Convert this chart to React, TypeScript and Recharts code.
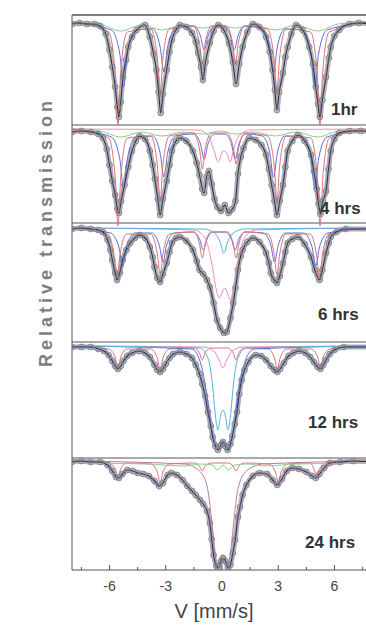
import React from "react";
import { ComposedChart, Line, Scatter, XAxis, YAxis, ReferenceLine } from "recharts";

type Pt = [number, number];

// velocity ticks (mm/s)
const V_TICKS = [-7.5, -6, -4.5, -3, -1.5, 0, 1.5, 3, 4.5, 6, 7.5];
const V_LABELS = [-6, -3, 0, 3, 6];

// panel baselines / frame tops in stacked transmission units
const PANEL_BASE = [548, 441, 342, 224, 109];
const PANEL_TOPS = [555, 445, 347, 228, 112];
const PANEL_NAMES = ["1hr", "4 hrs", "6 hrs", "12 hrs", "24 hrs"];

// ---- 1 hr ----
const p1Data: Pt[] = [[-8,2],[-7.6,1],[-7.2,2],[-6.8,2],[-6.5,4],[-6.2,12],[-6.0,28],[-5.85,45],[-5.7,65],[-5.58,85],[-5.5,95],[-5.4,80],[-5.28,55],[-5.12,38],[-5.0,25],[-4.8,15],[-4.55,8],[-4.1,3],[-3.85,15],[-3.65,32],[-3.5,48],[-3.38,70],[-3.27,91],[-3.15,72],[-2.95,48],[-2.8,30],[-2.67,18],[-2.45,8],[-2.25,3],[-1.9,5],[-1.6,11],[-1.4,20],[-1.28,31],[-1.12,45],[-1.02,58],[-0.88,40],[-0.65,21],[-0.45,9],[-0.2,3],[0.1,8],[0.37,21],[0.58,40],[0.75,62],[0.92,42],[1.1,25],[1.35,10],[1.65,2],[2.0,5],[2.35,15],[2.55,30],[2.7,48],[2.82,68],[2.93,88],[3.05,70],[3.25,51],[3.38,35],[3.5,25],[3.7,12],[3.95,3],[4.3,8],[4.65,25],[4.85,42],[5.0,65],[5.12,82],[5.22,95],[5.35,78],[5.55,55],[5.7,36],[5.8,25],[6.0,14],[6.25,8],[6.8,2],[7.3,1],[8,2]];
const p1Red: Pt[] = [[-8,0],[-6.05,10],[-5.7,50],[-5.55,103],[-5.4,50],[-5.05,10],[-3.8,7],[-3.45,36],[-3.3,72],[-3.15,36],[-2.8,7],[-1.55,4],[-1.2,21],[-1.05,42],[-0.9,21],[-0.55,4],[0.22,4],[0.57,21],[0.72,42],[0.87,21],[1.22,4],[2.42,7],[2.77,36],[2.92,72],[3.07,36],[3.42,7],[4.72,10],[5.07,50],[5.22,103],[5.37,50],[5.72,10],[8,0]];
const p1Blue: Pt[] = [[-8,0],[-5.9,8],[-5.45,32],[-5.25,65],[-5.05,32],[-4.6,8],[-3.7,7],[-3.3,25],[-3.1,50],[-2.9,25],[-2.5,7],[-1.5,4],[-1.15,14],[-0.95,28],[-0.75,14],[-0.4,4],[0.1,4],[0.45,14],[0.65,28],[0.85,14],[1.2,4],[2.15,7],[2.55,25],[2.75,50],[2.95,25],[3.35,7],[4.3,8],[4.75,32],[4.95,65],[5.15,32],[5.6,8],[8,0]];
const p1Green: Pt[] = [[-8,0],[-6.5,2],[-5.4,9],[-4.3,3],[-3.2,8],[-2.1,3],[-1.0,6],[-0.15,3],[0.7,6],[1.7,3],[2.85,8],[3.95,3],[5.1,9],[6.2,2],[8,0]];

// ---- 4 hrs ----
const p2Data: Pt[] = [[-8,3],[-7.5,2],[-7,3],[-6.6,5],[-6.35,9],[-6.15,20],[-6.0,36],[-5.85,52],[-5.7,66],[-5.58,80],[-5.5,84],[-5.38,72],[-5.2,56],[-5.0,38],[-4.8,22],[-4.6,12],[-4.4,7],[-4.1,10],[-3.85,22],[-3.7,36],[-3.58,50],[-3.42,70],[-3.3,86],[-3.15,70],[-2.95,52],[-2.8,36],[-2.67,22],[-2.45,12],[-2.25,9],[-1.9,12],[-1.55,22],[-1.35,34],[-1.2,46],[-1.05,60],[-0.95,64],[-0.82,48],[-0.7,42],[-0.55,55],[-0.4,70],[-0.25,78],[-0.05,82],[0.15,76],[0.35,84],[0.55,80],[0.72,72],[0.85,45],[1.0,28],[1.15,19],[1.45,9],[1.8,11],[2.1,16],[2.35,26],[2.5,40],[2.65,56],[2.8,72],[2.93,86],[3.08,72],[3.25,56],[3.38,38],[3.5,22],[3.75,12],[4.05,6],[4.4,12],[4.75,26],[4.9,42],[5.05,60],[5.15,75],[5.25,85],[5.38,72],[5.55,62],[5.68,40],[5.8,22],[6.0,10],[6.25,4],[6.8,2],[7.4,2],[8,3]];
const p2Red: Pt[] = [[-8,0],[-6.05,9],[-5.7,48],[-5.55,97],[-5.4,48],[-5.05,9],[-3.8,7],[-3.45,36],[-3.3,72],[-3.15,36],[-2.8,7],[-1.55,4],[-1.2,20],[-1.05,40],[-0.9,20],[-0.55,4],[0.25,4],[0.6,18],[0.75,35],[0.9,18],[1.25,4],[2.43,7],[2.78,36],[2.93,72],[3.08,36],[3.43,7],[4.73,9],[5.08,48],[5.23,97],[5.38,48],[5.73,9],[8,0]];
const p2Pink: Pt[] = [[-8,0],[-1.3,1],[-0.75,6],[-0.45,20],[-0.2,33],[0.05,22],[0.25,24],[0.43,33],[0.62,20],[0.95,6],[1.5,1],[8,0]];
const p2Blue: Pt[] = [[-8,0],[-5.9,8],[-5.45,30],[-5.25,60],[-5.05,30],[-4.6,8],[-3.7,7],[-3.3,24],[-3.1,48],[-2.9,24],[-2.5,7],[-1.5,5],[-1.15,15],[-0.95,30],[-0.75,15],[-0.4,5],[0.15,5],[0.5,15],[0.7,30],[0.9,15],[1.25,5],[2.15,7],[2.55,24],[2.75,48],[2.95,24],[3.35,7],[4.3,8],[4.75,30],[4.95,60],[5.15,30],[5.6,8],[8,0]];
const p2Green: Pt[] = [[-8,0],[-6.5,2],[-5.4,8],[-4.3,3],[-3.2,7],[-2.1,3],[-1.0,5],[-0.1,2],[0.7,5],[1.7,3],[2.85,7],[3.95,3],[5.1,8],[6.2,2],[8,0]];

// ---- 6 hrs ----
const p3Data: Pt[] = [[-8,1],[-7.5,0],[-7,1],[-6.6,2],[-6.35,4],[-6.1,12],[-5.95,22],[-5.85,32],[-5.7,45],[-5.6,52],[-5.45,45],[-5.3,32],[-5.1,22],[-4.9,15],[-4.65,10],[-4.4,7],[-4.1,10],[-3.85,19],[-3.7,29],[-3.6,39],[-3.45,50],[-3.3,54],[-3.15,46],[-2.95,35],[-2.8,24],[-2.67,15],[-2.45,10],[-2.25,9],[-1.9,13],[-1.55,22],[-1.35,33],[-1.2,42],[-1.0,46],[-0.8,52],[-0.65,59],[-0.45,75],[-0.27,92],[-0.1,100],[0.1,105],[0.25,104],[0.45,90],[0.6,75],[0.72,60],[0.85,42],[1.0,28],[1.1,22],[1.35,14],[1.65,10],[2.0,14],[2.35,25],[2.5,35],[2.6,45],[2.78,52],[2.93,55],[3.08,48],[3.25,35],[3.38,24],[3.5,15],[3.75,11],[4.05,9],[4.4,16],[4.75,29],[4.95,42],[5.2,52],[5.35,42],[5.55,25],[5.7,15],[5.8,9],[6.1,4],[6.6,1],[8,1]];
const p3Red: Pt[] = [[-8,0],[-6.1,6],[-5.75,28],[-5.6,50],[-5.45,28],[-5.1,6],[-3.8,6],[-3.45,26],[-3.3,46],[-3.15,26],[-2.8,6],[-1.5,4],[-1.2,16],[-1.05,30],[-0.9,16],[-0.6,4],[0.3,4],[0.6,16],[0.75,30],[0.9,16],[1.2,4],[2.45,6],[2.78,26],[2.93,46],[3.08,26],[3.4,6],[4.7,6],[5.05,28],[5.2,50],[5.35,28],[5.7,6],[8,0]];
const p3Blue: Pt[] = [[-8,0],[-5.95,5],[-5.5,19],[-5.3,38],[-5.1,19],[-4.65,5],[-3.75,5],[-3.35,17],[-3.15,34],[-2.95,17],[-2.55,5],[-1.55,4],[-1.2,11],[-1.0,22],[-0.8,11],[-0.45,4],[0.15,4],[0.5,11],[0.7,22],[0.9,11],[1.25,4],[2.2,5],[2.6,17],[2.8,34],[3.0,17],[3.4,5],[4.35,5],[4.8,19],[5.0,38],[5.2,19],[5.65,5],[8,0]];
const p3Pink: Pt[] = [[-8,0],[-1.5,2],[-0.9,10],[-0.55,35],[-0.3,62],[-0.15,70],[0.15,60],[0.45,72],[0.6,62],[0.85,35],[1.2,10],[1.8,2],[8,0]];
const p3Cyan: Pt[] = [[-8,0],[-1,1],[-0.4,5],[-0.1,14],[0.1,25],[0.3,14],[0.6,5],[1.2,1],[8,0]];

// ---- 12 hrs ----
const p4Data: Pt[] = [[-8,1],[-7.5,1],[-7,1],[-6.6,3],[-6.3,5],[-6.05,9],[-5.85,15],[-5.7,20],[-5.55,23],[-5.4,20],[-5.25,15],[-5.05,10],[-4.8,7],[-4.4,5],[-4.1,7],[-3.85,11],[-3.6,19],[-3.45,24],[-3.3,26],[-3.15,23],[-3.0,18],[-2.8,12],[-2.6,8],[-2.25,6],[-1.9,8],[-1.6,12],[-1.4,19],[-1.2,28],[-1.05,38],[-0.9,50],[-0.75,66],[-0.6,80],[-0.5,91],[-0.35,100],[-0.22,104],[-0.05,99],[0.05,96],[0.17,100],[0.3,104],[0.45,98],[0.55,90],[0.68,78],[0.8,66],[0.92,48],[1.05,34],[1.2,24],[1.4,16],[1.8,9],[2.1,10],[2.35,14],[2.6,20],[2.8,24],[2.95,26],[3.1,23],[3.3,17],[3.55,10],[3.8,7],[4.1,5],[4.45,7],[4.7,11],[4.9,16],[5.1,21],[5.25,23],[5.4,19],[5.55,14],[5.75,8],[6.0,4],[6.5,1],[8,1]];
const p4Red: Pt[] = [[-8,0],[-6.05,3],[-5.7,11],[-5.55,22],[-5.4,11],[-5.05,3],[-3.8,3],[-3.45,12],[-3.3,24],[-3.15,12],[-2.8,3],[-1.5,2],[-1.2,7],[-1.05,14],[-0.9,7],[-0.6,2],[0.3,2],[0.6,7],[0.75,14],[0.9,7],[1.2,2],[2.45,3],[2.8,12],[2.95,24],[3.1,12],[3.45,3],[4.75,3],[5.1,11],[5.25,22],[5.4,11],[5.75,3],[8,0]];
const p4Cyan: Pt[] = [[-8,0],[-1.2,2],[-0.75,12],[-0.5,40],[-0.35,70],[-0.22,84],[-0.08,70],[0.05,64],[0.18,70],[0.32,84],[0.45,70],[0.6,40],[0.85,12],[1.3,2],[8,0]];
const p4Pink: Pt[] = [[-8,0],[-1.0,1],[-0.45,5],[-0.15,14],[0.05,22],[0.25,14],[0.55,5],[1.1,1],[8,0]];
const p4Blue: Pt[] = [[-8,0],[-1.6,3],[-1.1,20],[-0.8,50],[-0.55,85],[-0.3,100],[0.05,95],[0.35,100],[0.6,85],[0.85,50],[1.15,20],[1.7,3],[8,0]];

// ---- 24 hrs ----
const p5Data: Pt[] = [[-8,1],[-7.5,0],[-7,1],[-6.5,1],[-6.1,4],[-5.85,10],[-5.65,16],[-5.5,17],[-5.3,13],[-5.05,9],[-4.75,10],[-4.5,12],[-4.2,13],[-3.9,15],[-3.6,20],[-3.35,25],[-3.15,22],[-2.9,14],[-2.7,12],[-2.4,14],[-2.1,19],[-1.85,25],[-1.6,30],[-1.4,34],[-1.17,39],[-1.0,43],[-0.8,50],[-0.65,62],[-0.55,78],[-0.45,94],[-0.3,105],[-0.2,107],[-0.05,100],[0.05,97],[0.18,100],[0.32,107],[0.45,104],[0.58,92],[0.7,79],[0.85,56],[0.96,46],[1.1,34],[1.3,24],[1.65,15],[2.0,12],[2.4,13],[2.7,19],[2.95,24],[3.2,18],[3.45,10],[3.75,7],[4.1,8],[4.5,11],[4.8,15],[5.0,17],[5.2,13],[5.45,7],[5.75,2],[6.3,1],[7,0],[8,1]];
const p5Red: Pt[] = [[-8,0],[-6.0,2],[-5.7,8],[-5.55,15],[-5.4,8],[-5.1,2],[-3.8,3],[-3.45,11],[-3.3,22],[-3.15,11],[-2.8,3],[-1.5,2],[-1.2,5],[-1.05,10],[-0.9,5],[-0.6,2],[0.3,2],[0.6,5],[0.75,10],[0.9,5],[1.2,2],[2.5,3],[2.85,11],[3.0,22],[3.15,11],[3.5,3],[4.7,2],[4.9,8],[5.05,15],[5.2,8],[5.5,2],[8,0]];
const p5Doublet: Pt[] = [[-8,0],[-2,3],[-1.2,10],[-0.8,25],[-0.55,60],[-0.4,90],[-0.25,104],[-0.05,96],[0.1,94],[0.28,104],[0.45,92],[0.62,62],[0.85,28],[1.3,10],[2.2,3],[8,0]];
const p5Green: Pt[] = [[-8,2],[-4,3],[-2,5],[-1.2,3],[-0.5,4],[-0.25,9],[0.05,4],[0.35,9],[0.65,4],[1.4,3],[2.2,5],[4,3],[8,2]];

const C = {
  red: "#e0707f",
  pink: "#ef8fb0",
  blue: "#5a6fdc",
  cyan: "#4fb4e0",
  green: "#8ccf8a",
  fit: "#2b3058",
};

const panels = [
  { data: p1Data, band: "#9a9a9a", comps: [[p1Green, C.green], [p1Blue, C.blue], [p1Red, C.red]] },
  { data: p2Data, band: "#93939a", comps: [[p2Green, C.green], [p2Blue, C.blue], [p2Pink, C.pink], [p2Red, C.red]] },
  { data: p3Data, band: "#909098", comps: [[p3Blue, C.blue], [p3Red, C.red], [p3Pink, C.pink], [p3Cyan, C.cyan]] },
  { data: p4Data, band: "#8892aa", comps: [[p4Red, C.red], [p4Blue, C.blue], [p4Pink, C.pink], [p4Cyan, C.cyan]] },
  { data: p5Data, band: "#9c8ca8", comps: [[p5Red, C.red], [p5Doublet, "#c07aa0"], [p5Green, C.green]] },
];

const toRows = (pts: Pt[], base: number) => pts.map(([v, d]) => ({ v, y: base - d }));

const VTick = (props: any) => {
  const { x, y, payload } = props;
  const major = V_LABELS.includes(payload.value);
  return (
    <g>
      <line x1={x} x2={x} y1={y} y2={y - (major ? 5 : 3)} stroke="#555" />
      {major && (
        <text x={x} y={y + 21} textAnchor="middle" fontSize={14} fill="#444" fontFamily="Liberation Sans, Arial">
          {payload.value}
        </text>
      )}
    </g>
  );
};

const Circle = (props: any) => (
  <circle cx={props.cx} cy={props.cy} r={2.9} fill="none" stroke="#858585" strokeWidth={1} />
);

const LABEL_POS = [
  [331, 115],
  [320, 214],
  [318, 320],
  [308, 428],
  [305, 548],
];

export default function App() {
  return (
    <div style={{ position: "absolute", left: 0, top: 0, width: 366, height: 625, overflow: "hidden", background: "#fff" }}>
      <ComposedChart width={380} height={625} margin={{ top: 15, right: 8, bottom: 15, left: 72 }}>
        <XAxis
          dataKey="v"
          type="number"
          domain={[-8, 8]}
          ticks={V_TICKS}
          interval={0}
          tickSize={0}
          tickMargin={0}
          tick={<VTick />}
          height={40}
          axisLine={{ stroke: "#555" }}
          allowDataOverflow
        />
        <YAxis hide type="number" domain={[0, 555]} allowDataOverflow />
        <ReferenceLine x={-8} stroke="#555" />
        {PANEL_TOPS.map((t, i) => (
          <ReferenceLine key={"b" + i} y={t} stroke="#555" strokeWidth={i === 0 ? 1.5 : 1} />
        ))}
        {panels.map((p, i) => (
          <Line
            key={"band" + i}
            data={toRows(p.data, PANEL_BASE[i])}
            dataKey="y"
            type="monotone"
            stroke={p.band}
            strokeWidth={5}
            strokeOpacity={0.75}
            dot={false}
            activeDot={false}
            isAnimationActive={false}
          />
        ))}
        {panels.map((p, i) => (
          <Scatter
            key={"pts" + i}
            data={toRows(p.data, PANEL_BASE[i])}
            dataKey="y"
            shape={<Circle />}
            isAnimationActive={false}
          />
        ))}
        {panels.map((p, i) =>
          p.comps.map(([pts, col], j) => (
            <Line
              key={"c" + i + "-" + j}
              data={toRows(pts as Pt[], PANEL_BASE[i])}
              dataKey="y"
              type="monotone"
              stroke={col as string}
              strokeWidth={1}
              dot={false}
              activeDot={false}
              isAnimationActive={false}
            />
          ))
        )}
        {panels.map((p, i) => (
          <Line
            key={"fit" + i}
            data={toRows(p.data, PANEL_BASE[i])}
            dataKey="y"
            type="monotone"
            stroke={C.fit}
            strokeWidth={1.1}
            dot={false}
            activeDot={false}
            isAnimationActive={false}
          />
        ))}
      </ComposedChart>
      <svg width={366} height={625} style={{ position: "absolute", left: 0, top: 0, pointerEvents: "none" }}>
        <text
          transform="translate(52,232) rotate(-90)"
          textAnchor="middle"
          fontSize={18}
          fontWeight="bold"
          letterSpacing={4}
          fill="#7d7d7d"
          fontFamily="Liberation Sans, Arial"
        >
          Relative transmission
        </text>
        {PANEL_NAMES.map((n, i) => (
          <text key={n} x={LABEL_POS[i][0]} y={LABEL_POS[i][1]} fontSize={17} fontWeight="bold" fill="#333" fontFamily="Liberation Sans, Arial">
            {n}
          </text>
        ))}
        <text x={214} y={618} textAnchor="middle" fontSize={20} fill="#444" fontFamily="Liberation Sans, Arial">
          V [mm/s]
        </text>
      </svg>
    </div>
  );
}
